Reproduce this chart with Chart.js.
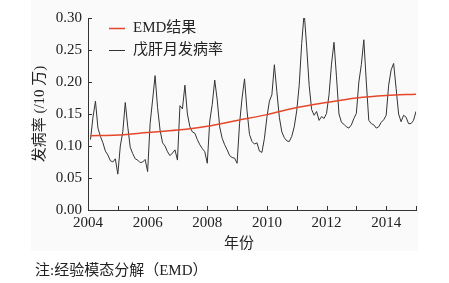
<!DOCTYPE html>
<html>
<head>
<meta charset="utf-8">
<script src="https://cdn.jsdelivr.net/npm/chart.js@4.4.1/dist/chart.umd.min.js"></script>
<style>
  html, body { margin: 0; padding: 0; background: #ffffff; }
  #wrap { position: relative; width: 449px; height: 283px; overflow: hidden; }
  #bgbox { position: absolute; left: 31px; top: 0; width: 387px; height: 251px; background: #fafafa; }
  #chart { position: absolute; left: 0; top: 0; }
  .txt { position: absolute; font-family: 'Liberation Serif', 'Noto Sans CJK SC', serif; font-size: 15px; line-height: 18px; color: #222; white-space: nowrap; }
  #xtitle { left: 224px; top: 234px; }
  #note { left: 35px; top: 261px; }
</style>
</head>
<body>
<div id="wrap">
  <div id="bgbox"></div>
  <canvas id="chart" width="449" height="283"></canvas>
  <div class="txt" id="xtitle">年份</div>
  <div class="txt" id="note">注:经验模态分解（EMD）</div>
</div>
<script>
// ---- data ----
const startYear = 2004;
const rate2004 = [0.110,0.145,0.170,0.128,0.115,0.105,0.092,0.086,0.077,0.075,0.080,0.056];
const rate2005 = [0.100,0.122,0.168,0.130,0.098,0.088,0.080,0.078,0.074,0.075,0.079,0.060];
const rate2006 = [0.135,0.172,0.210,0.160,0.125,0.105,0.100,0.091,0.085,0.089,0.094,0.078];
const rate2007 = [0.163,0.158,0.195,0.150,0.130,0.122,0.120,0.110,0.102,0.096,0.091,0.073];
const rate2008 = [0.139,0.165,0.203,0.172,0.130,0.112,0.102,0.094,0.085,0.082,0.081,0.073];
const rate2009 = [0.135,0.175,0.205,0.155,0.118,0.107,0.103,0.105,0.092,0.090,0.112,0.145];
const rate2010 = [0.170,0.180,0.227,0.185,0.145,0.122,0.113,0.108,0.107,0.115,0.130,0.155];
const rate2011 = [0.195,0.260,0.309,0.255,0.195,0.157,0.148,0.154,0.140,0.146,0.143,0.151];
const rate2012 = [0.180,0.228,0.262,0.208,0.150,0.137,0.134,0.130,0.128,0.133,0.143,0.151];
const rate2013 = [0.200,0.227,0.266,0.200,0.140,0.135,0.133,0.128,0.130,0.137,0.141,0.148];
const rate2014 = [0.195,0.219,0.229,0.190,0.150,0.138,0.148,0.145,0.135,0.135,0.140,0.154];

const trendYears  = [2004.083, 2005, 2006, 2007, 2008, 2009, 2010, 2011, 2012, 2013, 2014, 2015];
const trendValues = [0.116, 0.117, 0.121, 0.125, 0.131, 0.140, 0.149, 0.160, 0.168, 0.175, 0.179, 0.181];

const yTickValues = [0.00, 0.05, 0.10, 0.15, 0.20, 0.25, 0.30];
const xLabelYears = [2004, 2006, 2008, 2010, 2012, 2014];

const seriesNames = ['EMD结果', '戊肝月发病率'];

// ---- build library data ----
const monthly = [].concat(rate2004, rate2005, rate2006, rate2007, rate2008, rate2009,
                          rate2010, rate2011, rate2012, rate2013, rate2014);
const monthlyPoints = monthly.map((v, i) => ({ x: startYear + (i + 1) / 12, y: v }));
const trendPoints = trendYears.map((x, i) => ({ x: x, y: trendValues[i] }));

const FONT = "'Liberation Serif', 'Noto Sans CJK SC', serif";
const INK = '#222222';

// inward tick marks + legend drawn inside the plot
const decor = {
  id: 'decor',
  afterDraw(chart) {
    const ctx = chart.ctx;
    const xs = chart.scales.x, ys = chart.scales.y;
    ctx.save();
    ctx.strokeStyle = '#333';
    ctx.lineWidth = 1;
    ctx.beginPath();
    xs.ticks.forEach(t => {
      const px = Math.round(xs.getPixelForValue(t.value)) + 0.5;
      ctx.moveTo(px, ys.bottom);
      ctx.lineTo(px, ys.bottom - 4);
    });
    ys.ticks.forEach(t => {
      const py = Math.round(ys.getPixelForValue(t.value)) + 0.5;
      ctx.moveTo(xs.left, py);
      ctx.lineTo(xs.left + 4, py);
    });
    ctx.stroke();

    // legend
    const lx0 = 109, lx1 = 125, tx = 133;
    const rows = [28, 50];
    chart.data.datasets.forEach((ds, k) => {
      const y = rows[k] + 0.5;
      ctx.beginPath();
      ctx.strokeStyle = ds.borderColor;
      ctx.lineWidth = k === 0 ? 1.5 : 1;
      ctx.moveTo(lx0, y);
      ctx.lineTo(lx1, y);
      ctx.stroke();
      ctx.fillStyle = INK;
      ctx.font = '15px ' + FONT;
      ctx.textBaseline = 'middle';
      ctx.textAlign = 'left';
      ctx.fillText(ds.label, tx, rows[k]);
    });
    ctx.restore();
  }
};

new Chart(document.getElementById('chart'), {
  type: 'line',
  data: {
    datasets: [
      {
        label: seriesNames[0],
        data: trendPoints,
        borderColor: '#e5472b',
        borderWidth: 1.5,
        pointRadius: 0,
        cubicInterpolationMode: 'monotone',
        fill: false
      },
      {
        label: seriesNames[1],
        data: monthlyPoints,
        borderColor: '#333333',
        borderWidth: 1,
        pointRadius: 0,
        tension: 0,
        fill: false
      }
    ]
  },
  options: {
    responsive: false,
    animation: false,
    events: [],
    layout: { padding: { left: 0, right: 33, top: 18, bottom: 43 } },
    plugins: { legend: { display: false }, tooltip: { enabled: false } },
    scales: {
      x: {
        type: 'linear',
        min: 2004,
        max: 2015,
        grid: { display: false, drawTicks: false },
        border: { display: true, color: '#333', width: 1 },
        ticks: {
          stepSize: 1,
          autoSkip: false,
          maxRotation: 0,
          padding: 4,
          color: INK,
          font: { family: FONT, size: 15 },
          callback: (v) => xLabelYears.includes(v) ? String(v) : ''
        },
        afterFit: (s) => { s.height = 30; }
      },
      y: {
        type: 'linear',
        min: 0,
        max: 0.30,
        grid: { display: false, drawTicks: false },
        border: { display: true, color: '#333', width: 1 },
        ticks: {
          stepSize: 0.05,
          padding: 6,
          color: INK,
          font: { family: FONT, size: 15 },
          callback: (v) => {
            const hit = yTickValues.find(t => Math.abs(t - v) < 1e-9);
            return hit === undefined ? '' : hit.toFixed(2);
          }
        },
        title: {
          display: true,
          text: '发病率 (/10 万)',
          color: INK,
          font: { family: FONT, size: 15 },
          padding: { top: 31, bottom: 0 }
        },
        afterFit: (s) => { s.width = 88; }
      }
    }
  },
  plugins: [decor]
});
</script>
</body>
</html>
